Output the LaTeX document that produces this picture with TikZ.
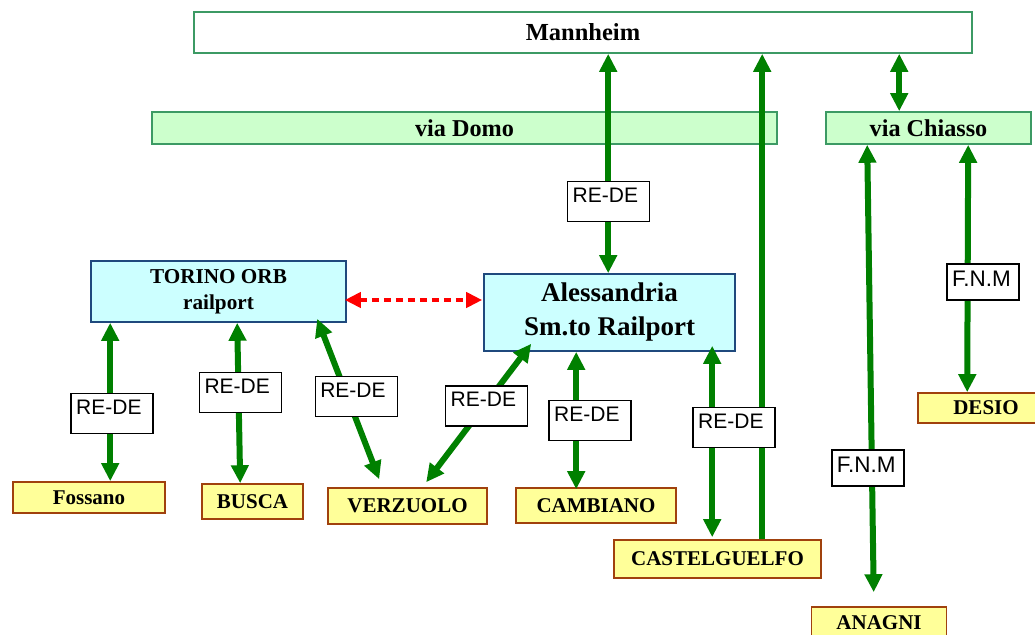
\documentclass[tikz,border=0pt]{standalone}
\usepackage{fontspec}
\setmainfont{Liberation Serif}
\setsansfont{Liberation Sans}
\usetikzlibrary{arrows.meta,calc}
\definecolor{arrgreen}{HTML}{008000}
\definecolor{boxgreen}{HTML}{3C9A64}
\definecolor{viafill}{HTML}{CCFFCC}
\definecolor{hubfill}{HTML}{CCFFFF}
\definecolor{hubborder}{HTML}{1F497D}
\definecolor{stfill}{HTML}{FFFF99}
\definecolor{stborder}{HTML}{A0410D}
\begin{document}
\begin{tikzpicture}[x=1pt,y=-1pt,
  box/.style={draw, line width=1.6pt, inner sep=0pt, align=center, font=\bfseries},
  topbox/.style={box, draw=boxgreen, fill=white, font=\bfseries\fontsize{24.5}{26}\selectfont},
  viabox/.style={box, draw=boxgreen, fill=viafill, font=\bfseries\fontsize{24.2}{26}\selectfont},
  hub/.style={box, draw=hubborder, fill=hubfill},
  station/.style={box, draw=stborder, fill=stfill, font=\bfseries\fontsize{21}{24}\selectfont},
  lab/.style={draw=black, line width=1.5pt, fill=white, font=\sffamily\fontsize{21}{21}\selectfont,
    inner xsep=5pt, inner ysep=0pt, text width=72pt, align=left, minimum height=40pt,
    text height=15pt, text depth=13.7pt},
  fnm/.style={lab, font=\sffamily\fontsize{22.5}{22}\selectfont, text width=62pt, minimum height=36pt, text height=16pt, text depth=6.5pt},
  link/.style={draw=arrgreen, line width=6pt, >={Triangle[length=18pt,width=17pt]}},
  reddash/.style={draw=red, line width=4.5pt, dash pattern=on 7pt off 5pt, >={Triangle[length=16pt,width=15pt]}}
]
\useasboundingbox[fill=white] (0,0) rectangle (1035,634);

% boxes
\node[topbox, minimum width=778pt, minimum height=41pt] (mannheim) at (583,32.5) {Mannheim};
\node[viabox, minimum width=625pt, minimum height=32pt] (domo) at (464.5,128) {via Domo};
\node[viabox, minimum width=205pt, minimum height=32pt] (chiasso) at (928.5,128) {via Chiasso};
\node[hub, minimum width=255pt, minimum height=61pt, font=\bfseries\fontsize{21.2}{26}\selectfont] (torino) at (218.5,291.5) {TORINO ORB\\railport};
\node[hub, minimum width=251pt, minimum height=77pt, font=\bfseries\fontsize{27}{34}\selectfont] (alex) at (609.5,312.5) {Alessandria\\Sm.to Railport};
\node[station, minimum width=152pt, minimum height=31pt] (fossano) at (89,497.5) {Fossano};
\node[station, minimum width=101pt, minimum height=35pt] (busca) at (252.5,501.5) {BUSCA};
\node[station, minimum width=159pt, minimum height=36pt] (verz) at (407.5,506) {VERZUOLO};
\node[station, minimum width=160pt, minimum height=35pt] (camb) at (596,505.5) {CAMBIANO};
\node[station, minimum width=207pt, minimum height=38pt] (castel) at (717.5,559) {CASTELGUELFO};
\node[station, minimum width=135pt, minimum height=31pt] (anagni) at (879,622.5) {ANAGNI};
\node[station, minimum width=136pt, minimum height=30pt] (desio) at (986,408) {DESIO};

% connectors
\draw[link,->] ($(castel.north west)+(149,0)$) -- ($(mannheim.south west)+(569,0)$);
\draw[link,<->] ($(mannheim.south west)+(415,0)$) -- node[lab, pos=0.674, xshift=0.5pt] {RE-DE} ($(alex.north west)+(125,0)$);
\draw[link,<->] ($(mannheim.south west)+(706,0)$) -- ($(chiasso.north west)+(74,0)$);
\draw[link,<->] ($(chiasso.south west)+(42,0)$) -- node[fnm, pos=0.722, xshift=-4pt] {F.N.M} ($(anagni.north west)+(63,-14)$);
\draw[link,<->] ($(chiasso.south west)+(143,0)$) -- node[fnm, pos=0.554, xshift=15.5pt] {F.N.M} ($(desio.north west)+(50,0)$);
\draw[link,<->] ($(torino.south west)+(20,0)$) -- node[lab, pos=0.572, xshift=2pt] {RE-DE} ($(fossano.north west)+(98,0)$);
\draw[link,<->] ($(torino.south west)+(147,0)$) -- node[lab, pos=0.435, xshift=2pt] {RE-DE} ($(busca.north west)+(39,0)$);
\draw[link,<->] ($(torino.south west)+(227,-4)$) -- node[lab, pos=0.485, xshift=9pt] {RE-DE} ($(verz.north west)+(52,-8)$);
\draw[link,<->] ($(alex.south west)+(48,-8)$) -- node[lab, pos=0.45, xshift=2.75pt] {RE-DE} ($(verz.north west)+(99,-5)$);
\draw[link,<->] ($(alex.south west)+(93,0)$) -- node[lab, pos=0.50, xshift=14pt] {RE-DE} ($(camb.north west)+(61,2)$);
\draw[link,<->] ($(alex.south west)+(229,-6)$) -- node[lab, pos=0.427, xshift=22pt] {RE-DE} ($(castel.north west)+(99,-2)$);
\draw[reddash,<->] ($(torino.east)+(-2,8.5)$) -- ($(alex.west)+(-1,-12.5)$);
\end{tikzpicture}
\end{document}
